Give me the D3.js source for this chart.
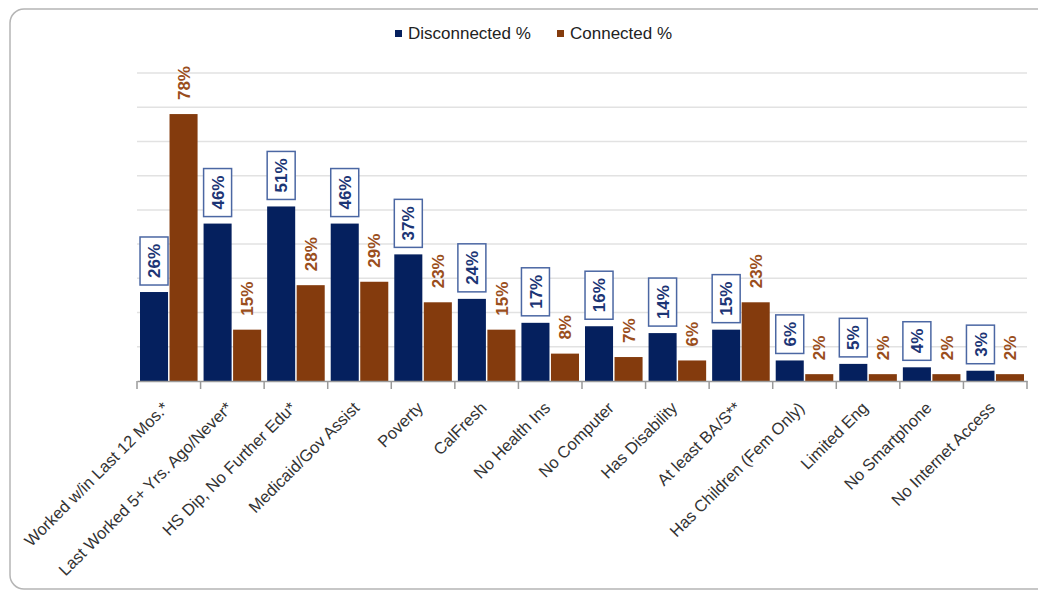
<!DOCTYPE html>
<html>
<head>
<meta charset="utf-8">
<script src="https://cdn.jsdelivr.net/npm/d3@7"></script>
<style>
    body { margin: 0; background: #fff; }
    #chart { width: 1038px; height: 591px; }
    text { font-family: "Liberation Sans", Arial, sans-serif; }
    .val { font-family: "Liberation Sans Narrow", "Arial Narrow", "Liberation Sans", sans-serif; }
</style>
</head>
<body>
<div id="chart"></div>
<script>
// chart values
var categories = ["Worked w/in Last 12 Mos.*", "Last Worked 5+ Yrs. Ago/Never*", "HS Dip, No Further Edu*",
    "Medicaid/Gov Assist", "Poverty", "CalFresh", "No Health Ins", "No Computer", "Has Disability",
    "At least BA/S**", "Has Children (Fem Only)", "Limited Eng", "No Smartphone", "No Internet Access"];
var seriesNames = ["Disconnected %", "Connected %"];
var disconnected = [26, 46, 51, 46, 37, 24, 17, 16, 14, 15, 6, 5, 4, 3];
var connected = [78, 15, 28, 29, 23, 15, 8, 7, 6, 23, 2, 2, 2, 2];
var gridTicks = [10, 20, 30, 40, 50, 60, 70, 80, 90];

var colors = {"Disconnected %": "#05205e", "Connected %": "#843b0d"};
var labelColors = {"Disconnected %": "#1c3575", "Connected %": "#9a4e1c"};

var data = categories.map(function(c, i) {
    return {cat: c, values: [
        {key: seriesNames[0], value: disconnected[i]},
        {key: seriesNames[1], value: connected[i]}
    ]};
});

var width = 1038, height = 591;
var plot = {left: 137, right: 1027, top: 73, bottom: 381};

var svg = d3.select("#chart").append("svg")
    .attr("width", width)
    .attr("height", height);

// outer frame
svg.append("rect")
    .attr("x", 10).attr("y", 9)
    .attr("width", 1045).attr("height", 580)
    .attr("rx", 14)
    .attr("fill", "none")
    .attr("stroke", "#b5b5b5")
    .attr("stroke-width", 1.5);

var x0 = d3.scaleBand()
    .domain(categories)
    .range([plot.left, plot.right])
    .padding(0);

var x1 = d3.scaleBand()
    .domain(seriesNames)
    .range([3, x0.bandwidth() - 3])
    .paddingInner(0.05);

var y = d3.scaleLinear()
    .domain([0, 90])
    .range([plot.bottom, plot.top]);

// gridlines
svg.append("g").selectAll("line")
    .data(gridTicks)
    .enter().append("line")
    .attr("x1", plot.left).attr("x2", plot.right)
    .attr("y1", function(d) { return y(d); })
    .attr("y2", function(d) { return y(d); })
    .attr("stroke", "#e2e2e2")
    .attr("stroke-width", 1.5);

// bars
var groups = svg.append("g").selectAll("g")
    .data(data)
    .enter().append("g")
    .attr("transform", function(d) { return "translate(" + x0(d.cat) + ",0)"; });

groups.selectAll("rect")
    .data(function(d) { return d.values; })
    .enter().append("rect")
    .attr("x", function(d) { return x1(d.key); })
    .attr("y", function(d) { return y(d.value); })
    .attr("width", x1.bandwidth())
    .attr("height", function(d) { return y(0) - y(d.value); })
    .attr("fill", function(d) { return colors[d.key]; });

// value labels
var labels = groups.selectAll("g.lbl")
    .data(function(d) { return d.values; })
    .enter().append("g")
    .attr("class", "lbl")
    .attr("transform", function(d) {
        return "translate(" + (x1(d.key) + x1.bandwidth() / 2) + "," + (y(d.value) - 14) + ") rotate(-90)";
    });

labels.append("text")
    .attr("class", "val")
    .attr("text-anchor", "start")
    .attr("dy", "0.36em")
    .attr("font-size", 17)
    .attr("font-weight", "bold")
    .attr("fill", function(d) { return labelColors[d.key]; })
    .text(function(d) { return d.value + "%"; });

labels.filter(function(d) { return d.key === seriesNames[0]; })
    .insert("rect", "text")
    .attr("x", -7)
    .attr("y", -14)
    .attr("height", 28)
    .attr("width", function() {
        return this.parentNode.querySelector("text").getComputedTextLength() + 14;
    })
    .attr("fill", "#fff")
    .attr("stroke", "#4b67a3")
    .attr("stroke-width", 1.5);

// x axis
var xAxis = d3.axisBottom(x0).tickSize(0).tickFormat("");
var axisG = svg.append("g")
    .attr("transform", "translate(0," + plot.bottom + ")")
    .call(xAxis);
axisG.select(".domain").attr("stroke", "#9a9a9a").attr("stroke-width", 1.5);

var tickPos = categories.map(function(c) { return x0(c); }).concat([plot.right]);
axisG.selectAll("line.sep")
    .data(tickPos)
    .enter().append("line")
    .attr("class", "sep")
    .attr("x1", function(d) { return d; }).attr("x2", function(d) { return d; })
    .attr("y1", 0).attr("y2", 8)
    .attr("stroke", "#9a9a9a")
    .attr("stroke-width", 1.5);

svg.append("g").selectAll("text")
    .data(categories)
    .enter().append("text")
    .attr("transform", function(d) {
        return "translate(" + (x0(d) + x0.bandwidth() / 2 + 1) + "," + (plot.bottom + 28) + ") rotate(-45)";
    })
    .attr("text-anchor", "end")
    .attr("font-size", 16.5)
    .attr("fill", "#333")
    .text(function(d) { return d; });

// legend
var legend = svg.append("g").selectAll("g")
    .data(seriesNames)
    .enter().append("g")
    .attr("transform", function(d, i) { return "translate(" + (i === 0 ? 395 : 557) + ",30)"; });

legend.append("rect")
    .attr("width", 7).attr("height", 7)
    .attr("fill", function(d) { return colors[d]; });

legend.append("text")
    .attr("x", 13)
    .attr("y", 9)
    .attr("font-size", 17)
    .attr("fill", "#222")
    .text(function(d) { return d; });
</script>
</body>
</html>
